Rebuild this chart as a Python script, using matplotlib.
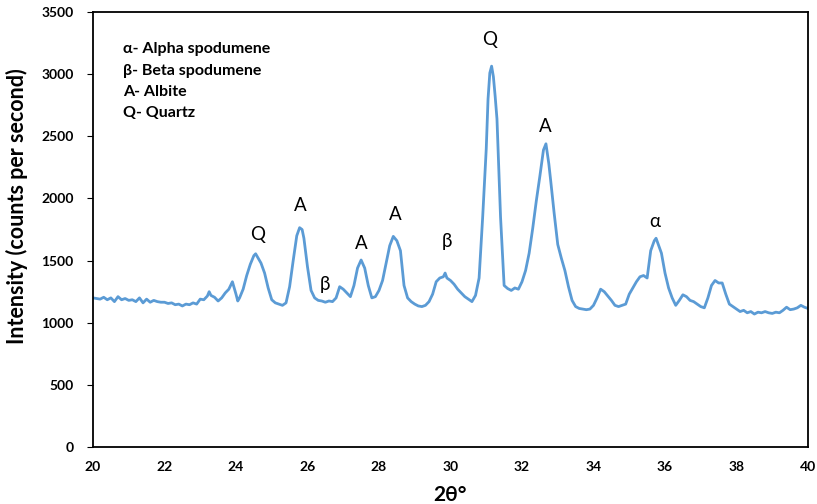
import matplotlib
matplotlib.use("Agg")
import matplotlib.pyplot as plt

plt.rcParams['font.family'] = ['Lato', 'DejaVu Sans']

two_theta = [
    20.0, 20.1, 20.2, 20.3, 20.4, 20.5, 20.6, 20.7, 20.8, 20.9,
    21.0, 21.1, 21.2, 21.3, 21.4, 21.5, 21.6, 21.7, 21.8, 21.9,
    22.0, 22.1, 22.2, 22.3, 22.4, 22.5, 22.6, 22.7, 22.8, 22.9,
    23.0, 23.1, 23.2, 23.25, 23.3, 23.4, 23.5, 23.6, 23.7, 23.8, 23.9,
    24.0, 24.05, 24.1, 24.2, 24.3, 24.4, 24.5, 24.55, 24.6, 24.7, 24.8, 24.9,
    25.0, 25.1, 25.2, 25.3, 25.4, 25.5, 25.6, 25.7, 25.78, 25.85, 25.9,
    26.0, 26.1, 26.2, 26.3, 26.4, 26.5, 26.6, 26.7, 26.8, 26.9,
    27.0, 27.1, 27.2, 27.3, 27.4, 27.5, 27.6, 27.7, 27.8, 27.9,
    28.0, 28.1, 28.2, 28.3, 28.4, 28.5, 28.6, 28.7, 28.8, 28.9,
    29.0, 29.1, 29.2, 29.3, 29.4, 29.5, 29.6, 29.7, 29.8, 29.85, 29.9,
    30.0, 30.1, 30.2, 30.3, 30.4, 30.5, 30.6, 30.7, 30.8, 30.9,
    31.0, 31.05, 31.1, 31.15, 31.2, 31.25, 31.3, 31.4, 31.5, 31.6, 31.7, 31.8, 31.9,
    32.0, 32.1, 32.2, 32.3, 32.4, 32.5, 32.6, 32.67, 32.75, 32.8, 32.9,
    33.0, 33.1, 33.2, 33.3, 33.4, 33.5, 33.6, 33.7, 33.8, 33.9,
    34.0, 34.1, 34.2, 34.3, 34.4, 34.5, 34.6, 34.7, 34.8, 34.9,
    35.0, 35.1, 35.2, 35.3, 35.4, 35.5, 35.6, 35.7, 35.75, 35.8, 35.9,
    36.0, 36.1, 36.2, 36.3, 36.4, 36.5, 36.6, 36.7, 36.8, 36.9,
    37.0, 37.1, 37.2, 37.3, 37.4, 37.5, 37.6, 37.7, 37.8, 37.9,
    38.0, 38.1, 38.2, 38.3, 38.4, 38.5, 38.6, 38.7, 38.8, 38.9,
    39.0, 39.1, 39.2, 39.3, 39.4, 39.5, 39.6, 39.7, 39.8, 39.9, 40.0,
]

intensity = [
    1200, 1195, 1190, 1205, 1185, 1200, 1170, 1210, 1185, 1195,
    1180, 1185, 1170, 1200, 1160, 1190, 1165, 1180, 1170, 1165,
    1165, 1155, 1160, 1145, 1150, 1135, 1150, 1145, 1160, 1150,
    1190, 1185, 1215, 1250, 1220, 1205, 1175, 1200, 1240, 1270, 1330,
    1230, 1175, 1200, 1270, 1380, 1470, 1540, 1555, 1530, 1480, 1400, 1280,
    1185, 1160, 1150, 1140, 1160, 1290, 1500, 1700, 1765, 1750, 1680,
    1450, 1260, 1200, 1180, 1175, 1165, 1175, 1170, 1200, 1290,
    1270, 1240, 1210, 1300, 1440, 1505, 1440, 1300, 1200, 1210,
    1260, 1340, 1480, 1620, 1695, 1660, 1580, 1300, 1200, 1170,
    1150, 1135, 1130, 1140, 1170, 1230, 1330, 1360, 1370, 1400, 1360,
    1340, 1310, 1270, 1240, 1210, 1190, 1170, 1220, 1360, 1850,
    2400, 2800, 3010, 3065, 2980, 2820, 2640, 1850, 1300, 1275, 1260, 1280, 1270,
    1330, 1420, 1560, 1760, 1980, 2180, 2390, 2440, 2280, 2150, 1880,
    1630, 1520, 1420, 1290, 1180, 1130, 1115, 1110, 1105, 1110,
    1140, 1200, 1270, 1250, 1215, 1180, 1140, 1130, 1140, 1150,
    1230, 1280, 1330, 1370, 1380, 1360, 1580, 1660, 1680, 1640, 1560,
    1400, 1280, 1200, 1140, 1180, 1225, 1210, 1180, 1170, 1150,
    1130, 1120, 1200, 1300, 1340, 1320, 1320, 1230, 1150, 1130,
    1110, 1090, 1100, 1080, 1090, 1070, 1085, 1080, 1090, 1080,
    1075, 1085, 1080, 1100, 1125, 1105, 1110, 1120, 1140, 1125, 1115,
]

peak_labels = ["Q", "A", "β", "A", "A", "β", "Q", "A", "α"]
peak_x = [24.6, 25.8, 26.5, 27.5, 28.45, 29.9, 31.1, 32.64, 35.7]
peak_y = [1714, 1940, 1311, 1641, 1875, 1650, 3283, 2582, 1818]

legend_lines = ["α- Alpha spodumene", "β- Beta spodumene", "A- Albite", "Q- Quartz"]
legend_y = [3203, 3026, 2856, 2687]

x_ticks = list(range(20, 41, 2))
y_ticks = list(range(0, 3501, 500))

fig = plt.figure(figsize=(8.17, 5.04), dpi=100)
ax = fig.add_axes([0.1138, 0.1131, 0.8752, 0.8629])

ax.plot(two_theta, intensity, color="#5B9BD5", linewidth=2.0)

for lab, px, py in zip(peak_labels, peak_x, peak_y):
    ax.text(px, py, lab, ha="center", va="center", fontsize=13.5, color="black")

for line, ly in zip(legend_lines, legend_y):
    ax.text(20.84, ly, line, ha="left", va="center", fontsize=11.5,
            fontweight="bold", color="black")

ax.set_xlim(20, 40)
ax.set_ylim(0, 3500)
ax.set_xticks(x_ticks)
ax.set_yticks(y_ticks)
ax.tick_params(axis="x", length=0, pad=10, labelsize=10)
ax.tick_params(axis="y", length=4, direction="out", pad=10, labelsize=10)
for lbl in ax.get_xticklabels() + ax.get_yticklabels():
    lbl.set_fontweight("bold")

for sp in ax.spines.values():
    sp.set_linewidth(1.3)
    sp.set_color("black")

ax.set_xlabel("2θ°", fontsize=15, fontweight="bold", labelpad=9)
ax.set_ylabel("Intensity (counts per second)", fontsize=15.5, fontweight="bold")
ax.yaxis.set_label_coords(-0.091, 0.554)

fig.savefig("out.png", dpi=100)
